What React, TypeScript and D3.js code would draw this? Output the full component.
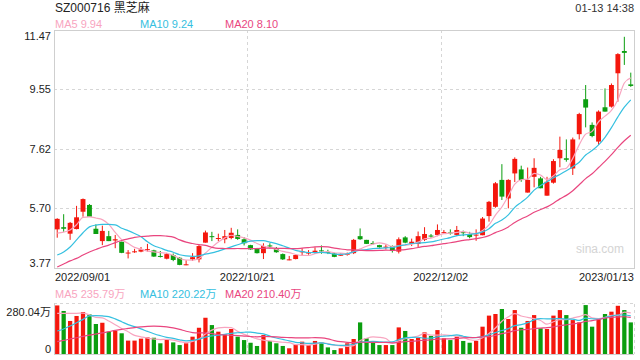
import React from "react";
import * as d3 from "d3";

const W = 640;
const H = 360;

// daily candles, 2022/09/01 .. 2023/01/13
const opens = [5.02,5.09,4.88,5.03,5.59,5.81,5.04,4.64,4.80,4.66,4.62,4.24,4.28,4.30,4.35,4.34,4.16,4.07,4.19,4.10,
  3.88,4.05,4.05,4.59,4.80,4.72,4.70,4.74,4.84,4.70,4.51,4.41,4.25,4.50,4.41,4.22,4.03,4.06,4.28,4.25,
  4.28,4.34,4.29,4.24,4.18,4.20,4.25,4.80,4.68,4.58,4.51,4.45,4.48,4.30,4.76,4.55,4.55,4.68,4.82,4.84,
  4.91,4.92,4.84,4.93,4.87,4.83,4.83,5.45,5.75,6.62,6.02,6.83,6.96,6.21,6.72,6.67,6.11,6.53,7.32,7.32,
  6.99,8.10,9.23,8.40,7.86,8.97,8.99,10.07,10.79,9.71];
const highs = [5.38,5.51,5.26,5.78,6.02,5.84,5.18,5.14,4.97,4.84,4.62,4.35,4.39,4.45,4.55,4.36,4.32,4.26,4.24,4.12,
  4.02,4.25,4.51,4.98,4.94,4.88,5.00,5.07,5.02,4.77,4.52,4.42,4.57,4.57,4.45,4.24,4.16,4.22,4.41,4.35,
  4.44,4.50,4.36,4.26,4.25,4.27,4.71,5.05,4.68,4.64,4.52,4.53,4.50,4.76,4.80,4.72,4.95,5.09,4.87,5.18,
  5.00,5.02,5.13,4.98,4.94,5.02,5.42,5.94,6.55,7.13,6.64,7.35,7.08,7.02,7.32,6.72,6.72,7.29,8.02,7.93,
  7.99,8.79,9.69,8.48,8.87,9.58,9.74,10.72,11.25,10.09];
const lows = [4.75,4.94,4.68,5.02,5.43,5.43,4.87,4.51,4.64,4.41,4.25,4.08,4.26,4.28,4.30,4.13,4.11,4.05,3.99,3.86,
  3.86,4.00,3.95,4.59,4.64,4.64,4.57,4.70,4.68,4.50,4.36,4.24,4.06,4.40,4.26,4.03,4.02,4.05,4.16,4.20,
  4.23,4.23,4.22,4.12,4.16,4.17,4.22,4.68,4.55,4.53,4.43,4.37,4.27,4.24,4.57,4.48,4.45,4.64,4.75,4.80,
  4.87,4.85,4.80,4.80,4.73,4.65,4.83,5.27,5.72,5.97,5.70,6.55,6.56,6.21,6.38,6.35,6.11,6.50,7.03,7.21,
  6.78,7.93,8.32,8.00,7.75,8.83,8.96,9.15,10.34,9.63];
const closes = [5.36,5.04,5.23,5.41,6.00,5.43,4.87,4.97,4.64,4.70,4.26,4.27,4.31,4.37,4.38,4.14,4.13,4.22,4.03,3.87,
  3.89,4.12,4.48,4.92,4.78,4.74,4.80,4.91,4.71,4.57,4.37,4.25,4.48,4.47,4.28,4.05,4.05,4.19,4.31,4.27,
  4.33,4.32,4.27,4.13,4.20,4.23,4.68,4.70,4.55,4.56,4.44,4.46,4.32,4.70,4.59,4.62,4.80,4.87,4.80,5.00,
  4.93,4.89,5.00,4.91,4.77,4.85,5.37,5.91,6.51,6.08,6.62,7.30,6.62,6.62,7.01,6.35,6.56,7.23,7.59,7.27,
  7.93,8.75,8.96,8.04,8.83,8.83,9.69,10.69,10.73,9.66];
// volume, 万股
const volumes = [272,241,185,213,235,222,168,175,125,130,116,75,75,86,93,91,60,82,65,50,
  60,97,147,203,162,125,110,140,97,78,63,45,106,73,60,45,32,54,69,50,
  73,65,37,22,32,60,84,177,88,69,50,50,50,149,129,84,91,121,101,134,
  88,78,97,73,63,73,153,215,224,252,196,246,147,185,218,144,140,215,246,218,
  190,177,274,153,196,224,237,270,246,177];

// moving-average values before a full window exists
const ma5Head = [4.90, 4.93, 5.00, 5.17];
const ma10Head = [4.19, 4.29, 4.45, 4.68, 4.91, 5.10, 5.16, 5.18, 5.18];
const ma20Head = [3.80, 3.90, 4.00, 4.08, 4.19, 4.29, 4.37, 4.45, 4.51, 4.59, 4.66, 4.71, 4.76, 4.79, 4.80, 4.82, 4.82, 4.80, 4.77];
const vma5Head = [228, 228, 228, 228];
const vma10Head = [129, 140, 157, 175, 194, 213, 215, 213, 209];
const vma20Head = [69, 76, 84, 91, 99, 106, 112, 118, 125, 132, 138, 143, 148, 152, 155, 156, 155, 152, 146];

const priceTicks = [3.77, 5.70, 7.62, 9.55, 11.47];
const volTickLabels = ["280.04万", "0"];
const dateTickIdx = [0, 30, 60, 89];
const dateTickLabels = ["2022/09/01", "2022/10/21", "2022/12/02", "2023/01/13"];
const title = "SZ000716 黑芝麻";
const stamp = "01-13 14:38";
const priceLegend = ["MA5 9.94", "MA10 9.24", "MA20 8.10"];
const volLegend = ["MA5 235.79万", "MA10 220.22万", "MA20 210.40万"];

const RED = "#f4170d";
const GREEN = "#0b9e0f";
const MA_COLORS = ["#f8a5c0", "#35c0e0", "#e9467f"];
const FONT = "'Liberation Sans', Arial, 'Noto Sans CJK SC', sans-serif";

const movingAvg = (vals: number[], n: number, head: number[]) =>
  vals.map((_, i) => (i < n - 1 ? head[i] : (d3.mean(vals.slice(i - n + 1, i + 1)) as number)));

const App = () => {
  const left = 54, right = 634;
  const top = 30, bottom = 268;
  const vTop = 304, vBottom = 354;
  const idx = d3.range(closes.length);

  const x = d3.scaleBand<number>().domain(idx).range([left, right]);
  const cx = (i: number) => (x(i) as number) + x.bandwidth() / 2;
  const y = d3.scaleLinear().domain([3.77, 11.47]).range([bottom, top]);
  const yv = d3.scaleLinear().domain([0, 280.04]).range([vBottom, vTop]);

  const bodyW = x.bandwidth() * 0.76;
  const barW = x.bandwidth() * 0.66;

  const priceMAs = [movingAvg(closes, 5, ma5Head), movingAvg(closes, 10, ma10Head), movingAvg(closes, 20, ma20Head)];
  const volMAs = [movingAvg(volumes, 5, vma5Head), movingAvg(volumes, 10, vma10Head), movingAvg(volumes, 20, vma20Head)];

  const pLine = d3.line<number>().x((_, i) => cx(i)).y((d) => y(d)).curve(d3.curveMonotoneX);
  const vLine = d3.line<number>().x((_, i) => cx(i)).y((d) => yv(d)).curve(d3.curveMonotoneX);

  const color = (i: number) => (closes[i] >= opens[i] ? RED : GREEN);
  const grid = "#d6d6d6";

  return (
    <svg width={W} height={H} style={{ position: "absolute", left: 0, top: 0, background: "#fff" }} fontFamily={FONT}>
      {/* header */}
      <text x={55} y={12} fontSize={12} fill="#222">{title}</text>
      <text x={634} y={12} fontSize={11} fill="#333" textAnchor="end">{stamp}</text>
      {priceLegend.map((t, k) => (
        <text key={t} x={55 + k * 85} y={28} fontSize={11} fill={MA_COLORS[k]}>{t}</text>
      ))}

      {/* main frame and grid */}
      {priceTicks.slice(1, -1).map((t) => (
        <line key={t} x1={left} x2={right} y1={Math.round(y(t)) + 0.5} y2={Math.round(y(t)) + 0.5}
          stroke={grid} strokeDasharray="3,3" />
      ))}
      {dateTickIdx.slice(1, -1).map((i) => (
        <g key={i}>
          <line x1={Math.round(x(i) as number) + 0.5} x2={Math.round(x(i) as number) + 0.5} y1={top} y2={bottom}
            stroke={grid} strokeDasharray="3,3" />
          <line x1={Math.round(x(i) as number) + 0.5} x2={Math.round(x(i) as number) + 0.5} y1={vTop - 1} y2={vBottom}
            stroke={grid} strokeDasharray="3,3" />
        </g>
      ))}
      <rect x={left + 0.5} y={top + 0.5} width={right - left} height={bottom - top} fill="none" stroke="#cfcfcf" />

      {priceTicks.map((t, k) => (
        <text key={t} x={51} y={y(t) + (k === priceTicks.length - 1 ? 6 : k === 0 ? -5 : 0)} dy="0.35em"
          fontSize={11} fill="#222" textAnchor="end">{t.toFixed(2)}</text>
      ))}

      <text x={624} y={253} fontSize={12} fill="#d4d4d4" textAnchor="end">sina.com</text>

      {/* candles */}
      {idx.map((i) => {
        const c = color(i);
        const y0 = y(Math.max(opens[i], closes[i]));
        const y1 = y(Math.min(opens[i], closes[i]));
        return (
          <g key={i}>
            <line x1={cx(i)} x2={cx(i)} y1={y(highs[i])} y2={y(lows[i])} stroke={c} strokeWidth={1} />
            <rect x={cx(i) - bodyW / 2} y={y0} width={bodyW} height={Math.max(1, y1 - y0)} fill={c} />
          </g>
        );
      })}
      {priceMAs.map((m, k) => (
        <path key={k} d={pLine(m) as string} fill="none" stroke={MA_COLORS[k]} strokeWidth={1.2} />
      ))}

      {/* dates */}
      {dateTickIdx.map((i, k) => (
        <text key={i}
          x={k === 0 ? left + 1 : k === dateTickIdx.length - 1 ? right : (x(i) as number)}
          y={281} fontSize={11} fill="#222"
          textAnchor={k === 0 ? "start" : k === dateTickIdx.length - 1 ? "end" : "middle"}>
          {dateTickLabels[k]}
        </text>
      ))}

      {/* volume panel */}
      {volLegend.map((t, k) => (
        <text key={t} x={55 + k * 85} y={298} fontSize={11} fill={MA_COLORS[k]}>{t}</text>
      ))}
      <line x1={left} x2={right} y1={vTop - 0.5} y2={vTop - 0.5} stroke={grid} strokeDasharray="3,3" />
      <line x1={right + 0.5} x2={right + 0.5} y1={vTop} y2={vBottom} stroke={grid} strokeDasharray="3,3" />
      <line x1={left + 0.5} x2={left + 0.5} y1={vTop - 1} y2={vBottom + 1} stroke="#cfcfcf" />
      <line x1={left} x2={right} y1={vBottom + 0.5} y2={vBottom + 0.5} stroke="#cfcfcf" />
      <text x={51} y={vTop + 8} dy="0.35em" fontSize={11} fill="#222" textAnchor="end">{volTickLabels[0]}</text>
      <text x={51} y={vBottom - 5} dy="0.35em" fontSize={11} fill="#222" textAnchor="end">{volTickLabels[1]}</text>
      {idx.map((i) => (
        <rect key={i} x={cx(i) - barW / 2} y={yv(volumes[i])} width={barW} height={vBottom - yv(volumes[i])} fill={color(i)} />
      ))}
      {volMAs.map((m, k) => (
        <path key={k} d={vLine(m) as string} fill="none" stroke={MA_COLORS[k]} strokeWidth={1.2} />
      ))}
    </svg>
  );
};

export default App;
